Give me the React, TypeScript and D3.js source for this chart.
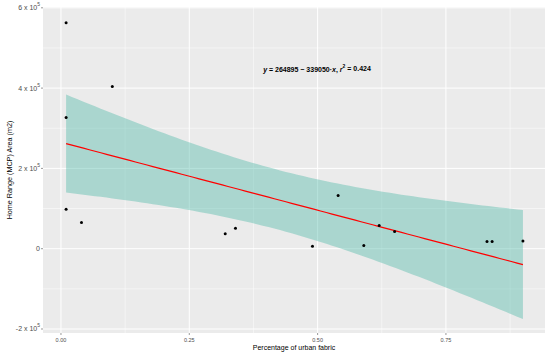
import * as d3 from "d3";

// urban fabric share vs home range area (m2)
const urbanFabric = [0.01, 0.01, 0.01, 0.04, 0.1, 0.32, 0.34, 0.49, 0.54, 0.59, 0.62, 0.65, 0.83, 0.84, 0.9];
const homeRange = [563000, 327000, 98000, 65000, 404000, 37000, 51000, 6000, 132500, 8000, 58000, 43000, 18000, 18000, 19000];

const xTicks = [0, 0.25, 0.5, 0.75];
const xTickLabels = ["0.00", "0.25", "0.50", "0.75"];
const xMinor = [0.125, 0.375, 0.625, 0.875];
const yTicks = [-200000, 0, 200000, 400000, 600000];
const yTickLabels = [["-2 x 10", "5"], ["0", ""], ["2 x 10", "5"], ["4 x 10", "5"], ["6 x 10", "5"]];
const yMinor = [-100000, 100000, 300000, 500000];

const T_975 = 2.16; // t quantile, df = 13

const W = 550;
const H = 356;
const panel = { left: 43, right: 545, top: 7, bottom: 333 };

export default function App() {
  const x = d3.scaleLinear().domain([-0.035, 0.943]).range([panel.left, panel.right]);
  const y = d3.scaleLinear().domain([-210000, 602000]).range([panel.bottom, panel.top]);

  // least squares fit + 95% confidence band
  const n = urbanFabric.length;
  const xbar = d3.mean(urbanFabric) as number;
  const ybar = d3.mean(homeRange) as number;
  let sxx = 0;
  let sxy = 0;
  urbanFabric.forEach((v, i) => {
    sxx += (v - xbar) ** 2;
    sxy += (v - xbar) * (homeRange[i] - ybar);
  });
  const slope = sxy / sxx;
  const intercept = ybar - slope * xbar;
  let sse = 0;
  urbanFabric.forEach((v, i) => {
    sse += (homeRange[i] - (intercept + slope * v)) ** 2;
  });
  const s = Math.sqrt(sse / (n - 2));

  const [xmin, xmax] = d3.extent(urbanFabric) as [number, number];
  const grid = d3.range(80).map((i) => xmin + ((xmax - xmin) * i) / 79);
  const band = grid.map((v) => {
    const fit = intercept + slope * v;
    const se = s * Math.sqrt(1 / n + (v - xbar) ** 2 / sxx);
    return { v, fit, lo: fit - T_975 * se, hi: fit + T_975 * se };
  });

  const area = d3
    .area<{ v: number; lo: number; hi: number }>()
    .x((d) => x(d.v))
    .y0((d) => y(d.lo))
    .y1((d) => y(d.hi));
  const line = d3
    .line<{ v: number; fit: number }>()
    .x((d) => x(d.v))
    .y((d) => y(d.fit));

  const font = "'Liberation Sans', Arial, sans-serif";

  return (
    <svg
      width={W}
      height={H}
      style={{ position: "absolute", left: 0, top: 0, background: "#fff" }}
      fontFamily={font}
    >
      <rect
        x={panel.left}
        y={panel.top}
        width={panel.right - panel.left}
        height={panel.bottom - panel.top}
        fill="#EBEBEB"
      />
      {yMinor.map((t) => (
        <line key={"ym" + t} x1={panel.left} x2={panel.right} y1={y(t)} y2={y(t)} stroke="#fff" strokeWidth={0.5} />
      ))}
      {xMinor.map((t) => (
        <line key={"xm" + t} x1={x(t)} x2={x(t)} y1={panel.top} y2={panel.bottom} stroke="#fff" strokeWidth={0.5} />
      ))}
      {yTicks.map((t) => (
        <line key={"yM" + t} x1={panel.left} x2={panel.right} y1={y(t)} y2={y(t)} stroke="#fff" strokeWidth={1} />
      ))}
      {xTicks.map((t) => (
        <line key={"xM" + t} x1={x(t)} x2={x(t)} y1={panel.top} y2={panel.bottom} stroke="#fff" strokeWidth={1} />
      ))}

      <path d={area(band) ?? ""} fill="#48B6A5" fillOpacity={0.4} />
      <path d={line(band) ?? ""} fill="none" stroke="#FF0000" strokeWidth={1.2} />

      {urbanFabric.map((v, i) => (
        <circle key={i} cx={x(v)} cy={y(homeRange[i])} r={1.5} fill="#000" />
      ))}

      {/* axes ticks and labels */}
      {yTicks.map((t, i) => (
        <g key={"yt" + t}>
          <line x1={panel.left - 2} x2={panel.left} y1={y(t)} y2={y(t)} stroke="#333" strokeWidth={0.5} />
          <text x={panel.left - 3} y={y(t)} dy="0.35em" textAnchor="end" fontSize={7} fill="#4D4D4D">
            {yTickLabels[i][0]}
            {yTickLabels[i][1] && (
              <tspan fontSize={5} dy="-0.8em">
                {yTickLabels[i][1]}
              </tspan>
            )}
          </text>
        </g>
      ))}
      {xTicks.map((t, i) => (
        <g key={"xt" + t}>
          <line x1={x(t)} x2={x(t)} y1={panel.bottom} y2={panel.bottom + 2} stroke="#333" strokeWidth={0.5} />
          <text x={x(t)} y={panel.bottom + 8.5} textAnchor="middle" fontSize={5.5} fill="#4D4D4D">
            {xTickLabels[i]}
          </text>
        </g>
      ))}

      <text
        x={(panel.left + panel.right) / 2}
        y={350}
        textAnchor="middle"
        fontSize={7}
        fill="#000"
      >
        Percentage of urban fabric
      </text>
      <text
        transform={`translate(11.5, ${(panel.top + panel.bottom) / 2}) rotate(-90)`}
        textAnchor="middle"
        fontSize={7.2}
        fill="#000"
      >
        Home Range (MCP) Area (m2)
      </text>

      <text x={317} y={71.5} textAnchor="middle" fontSize={7} fontWeight="bold" fill="#000">
        <tspan fontStyle="italic">y</tspan>
        {" = 264895 \u2212 339050\u00B7"}
        <tspan fontStyle="italic">x</tspan>
        {",  "}
        <tspan fontStyle="italic">r</tspan>
        <tspan fontSize={5} dy="-0.8em">2</tspan>
        <tspan dy="0.55em">{" = 0.424"}</tspan>
      </text>
    </svg>
  );
}
